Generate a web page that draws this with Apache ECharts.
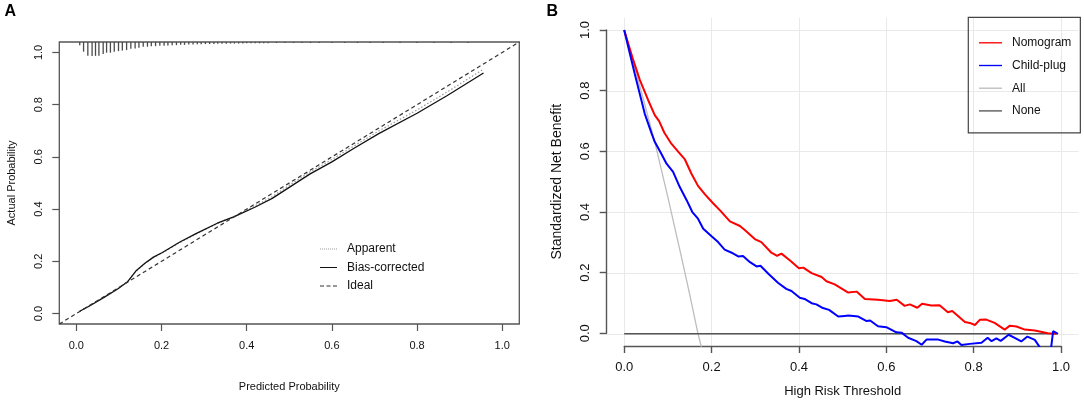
<!DOCTYPE html>
<html>
<head>
<meta charset="utf-8">
<title>Calibration curve and decision curve</title>
<script src="https://cdn.jsdelivr.net/npm/echarts@6.0.0/dist/echarts.min.js"></script>
<style>
html, body { margin: 0; padding: 0; background: #fff; }
#main { width: 1084px; height: 404px; }
</style>
</head>
<body>
<div id="main"></div>
<script>
// tick positions shared by both panels
var tickVals = [0, 0.2, 0.4, 0.6, 0.8, 1.0];
// R extends the plot region 4% on each side
var axisMin = -0.04, axisMax = 1.04;

// ---- A: calibration curve ----
var idealX = [-0.04, 1.04];
var idealY = [-0.04, 1.04];

var calX = [0.008, 0.032, 0.065, 0.097, 0.121, 0.141, 0.161, 0.181, 0.202, 0.242, 0.282, 0.331,
            0.371, 0.419, 0.460, 0.508, 0.548, 0.600, 0.653, 0.710, 0.800, 0.871, 0.956];
var apparentY = [0.010, 0.032, 0.063, 0.095, 0.124, 0.163, 0.192, 0.214, 0.232, 0.271, 0.305, 0.345,
                 0.372, 0.412, 0.448, 0.500, 0.542, 0.590, 0.643, 0.699, 0.780, 0.849, 0.936];
var biasY = [0.009, 0.030, 0.062, 0.094, 0.123, 0.165, 0.193, 0.216, 0.234, 0.273, 0.307, 0.346,
             0.371, 0.407, 0.441, 0.492, 0.534, 0.581, 0.634, 0.689, 0.767, 0.835, 0.921];

// spike histogram of predicted risks (x, lower end of the spike)
var spikeX = [0.008, 0.017, 0.027, 0.037, 0.045, 0.053, 0.063, 0.071, 0.080, 0.089, 0.099, 0.108,
              0.118, 0.128, 0.138, 0.147, 0.157, 0.167, 0.176, 0.186, 0.196, 0.206, 0.215, 0.225,
              0.235, 0.245, 0.254, 0.264, 0.274, 0.284, 0.293, 0.303, 0.313, 0.323, 0.332, 0.342,
              0.352, 0.362, 0.371, 0.381, 0.391, 0.400, 0.410, 0.420, 0.430, 0.440, 0.450,
              0.47, 0.49, 0.51, 0.53, 0.55, 0.57, 0.60, 0.63, 0.66, 0.69, 0.72, 0.76, 0.80, 0.84, 0.88, 0.92];
var spikeEnd = [1.028, 1.003, 0.987, 0.986, 0.987, 0.987, 0.994, 0.999, 0.999, 1.003, 1.005, 1.007,
                1.009, 1.014, 1.015, 1.018, 1.022, 1.022, 1.024, 1.024, 1.026, 1.026, 1.027, 1.028,
                1.028, 1.029, 1.029, 1.030, 1.030, 1.031, 1.031, 1.032, 1.032, 1.032, 1.033, 1.033,
                1.033, 1.034, 1.034, 1.034, 1.034, 1.035, 1.035, 1.035, 1.035, 1.035, 1.035,
                1.036, 1.036, 1.036, 1.036, 1.036, 1.036, 1.036, 1.036, 1.036, 1.036, 1.036, 1.036, 1.036, 1.036, 1.036, 1.036];

// ---- B: decision curves ----
var nomoX = [0, 0.021, 0.036, 0.055, 0.070, 0.080, 0.092, 0.108, 0.124, 0.139, 0.154, 0.169, 0.185,
             0.204, 0.221, 0.242, 0.265, 0.280, 0.299, 0.314, 0.337, 0.350, 0.360, 0.379, 0.400,
             0.410, 0.429, 0.452, 0.463, 0.482, 0.497, 0.513, 0.532, 0.551, 0.581, 0.608, 0.624,
             0.642, 0.654, 0.671, 0.682, 0.703, 0.722, 0.741, 0.751, 0.780, 0.791, 0.803, 0.814,
             0.829, 0.848, 0.871, 0.883, 0.898, 0.917, 0.940, 0.970, 0.990];
var nomoY = [1.0, 0.900, 0.835, 0.769, 0.720, 0.700, 0.662, 0.626, 0.599, 0.574, 0.527, 0.487, 0.459,
             0.429, 0.404, 0.370, 0.355, 0.337, 0.312, 0.302, 0.267, 0.257, 0.264, 0.242, 0.216,
             0.218, 0.200, 0.187, 0.173, 0.163, 0.150, 0.136, 0.139, 0.115, 0.112, 0.108, 0.112,
             0.092, 0.097, 0.086, 0.099, 0.093, 0.094, 0.071, 0.075, 0.039, 0.036, 0.029, 0.046,
             0.047, 0.036, 0.014, 0.027, 0.024, 0.014, 0.011, 0.002, 0.000];

var childX = [0, 0.024, 0.047, 0.063, 0.070, 0.085, 0.097, 0.112, 0.127, 0.143, 0.156, 0.169, 0.181,
              0.200, 0.215, 0.230, 0.246, 0.261, 0.272, 0.288, 0.303, 0.312, 0.330, 0.352, 0.371,
              0.383, 0.402, 0.413, 0.429, 0.440, 0.455, 0.469, 0.490, 0.505, 0.513, 0.536, 0.555,
              0.563, 0.581, 0.600, 0.623, 0.635, 0.650, 0.669, 0.681, 0.692, 0.719, 0.734, 0.753,
              0.763, 0.772, 0.791, 0.818, 0.832, 0.841, 0.852, 0.862, 0.880, 0.894, 0.909, 0.923,
              0.940, 0.959, 0.976, 0.982, 0.993];
var childY = [1.0, 0.857, 0.725, 0.659, 0.632, 0.593, 0.560, 0.533, 0.484, 0.440, 0.401, 0.379, 0.346,
              0.321, 0.302, 0.277, 0.267, 0.255, 0.256, 0.236, 0.222, 0.224, 0.198, 0.168, 0.148,
              0.141, 0.119, 0.115, 0.101, 0.097, 0.085, 0.079, 0.057, 0.059, 0.060, 0.057, 0.042,
              0.044, 0.025, 0.022, 0.005, 0.004, -0.013, -0.024, -0.036, -0.019, -0.019, -0.025, -0.031,
              -0.025, -0.037, -0.033, -0.029, -0.013, -0.024, -0.015, -0.023, -0.003, -0.013, -0.025, -0.009,
              -0.020, -0.060, -0.060, 0.009, 0.000];

var allX = [0, 0.035, 0.07, 0.10, 0.13, 0.15, 0.169, 0.178];
var allY = [1.0, 0.82, 0.632, 0.45, 0.26, 0.13, 0.0, -0.05];

var noneX = [0, 0.99];
var noneY = [0, 0];

var FONT = 'Liberation Sans, Arial, Helvetica, sans-serif';
var TXT = '#111';
var AXC = '#555';

// legend samples drawn as plain strokes (no symbol)
var ICON_SOLID = 'path://M0 0H17V1H0Z';
var ICON_DOT = 'path://M0 0h1v1H0zM2 0h1v1H2zM4 0h1v1H4zM6 0h1v1H6zM8 0h1v1H8zM10 0h1v1H10zM12 0h1v1H12zM14 0h1v1H14zM16 0h1v1H16z';
var ICON_DASH = 'path://M0 0h4v1H0zM6.5 0h4v1H6.5zM13 0h4v1H13z';

function zip(xs, ys) {
    var out = [];
    for (var i = 0; i < xs.length; i++) {
        out.push([xs[i], ys[i]]);
    }
    return out;
}
function fmt(v) {
    return Number(v).toFixed(1);
}

var chart = echarts.init(document.getElementById('main'), null, { renderer: 'canvas' });

var option = {
    animation: false,
    backgroundColor: '#fff',
    textStyle: { fontFamily: FONT },
    title: [
        { text: 'A', left: 4.5, top: 4, padding: 0, textStyle: { fontSize: 16, fontWeight: 'bold', color: '#000', fontFamily: FONT } },
        { text: 'B', left: 546.5, top: 3.5, padding: 0, textStyle: { fontSize: 16, fontWeight: 'bold', color: '#000', fontFamily: FONT } }
    ],
    grid: [
        // A: boxed plot
        { left: 59.3, top: 42, width: 460, height: 282, show: true, borderColor: AXC, borderWidth: 1.3,
          backgroundColor: 'transparent', outerBoundsMode: 'none' },
        // B: data region (full plot region incl. 4% padding)
        { left: 606.7, top: 17.9, width: 471.8, height: 328.1, outerBoundsMode: 'none' },
        // B: axis lines only span 0..1, like R's axis()
        { left: 624.3, top: 30, width: 436.7, height: 303.3, outerBoundsMode: 'none' }
    ],
    legend: [
        {
            data: [
                { name: 'Apparent', icon: ICON_DOT },
                { name: 'Bias-corrected', icon: ICON_SOLID },
                { name: 'Ideal', icon: ICON_DASH }
            ],
            orient: 'vertical', left: 320, top: 243, padding: 0,
            itemWidth: 17, itemHeight: 1.3, itemGap: 6.5,
            selectedMode: false,
            textStyle: { fontSize: 12, color: TXT, fontFamily: FONT, padding: [0, 0, 0, 5] }
        },
        {
            data: [
                { name: 'Nomogram', icon: ICON_SOLID },
                { name: 'Child-plug', icon: ICON_SOLID },
                { name: 'All', icon: ICON_SOLID },
                { name: 'None', icon: ICON_SOLID }
            ],
            orient: 'vertical', left: 968.3, top: 17.3,
            padding: [19.5, 9, 16, 10.7],
            borderColor: '#444', borderWidth: 1.2,
            itemWidth: 23, itemHeight: 2, itemGap: 10.7,
            selectedMode: false,
            textStyle: { fontSize: 12, color: TXT, fontFamily: FONT, padding: [0, 0, 0, 5] }
        }
    ],
    xAxis: [
        {
            gridIndex: 0, type: 'value', min: axisMin, max: axisMax,
            axisLine: { show: false, onZero: false },
            axisTick: { show: true, inside: false, length: 7, customValues: tickVals, lineStyle: { color: AXC, width: 1.2 } },
            axisLabel: { customValues: tickVals, formatter: fmt, margin: 16, fontSize: 11, color: TXT, fontFamily: FONT },
            splitLine: { show: false },
            name: 'Predicted Probability', nameLocation: 'middle', nameGap: 57,
            nameTextStyle: { fontSize: 11, color: TXT, fontFamily: FONT }
        },
        {
            gridIndex: 1, type: 'value', min: axisMin, max: axisMax,
            axisLine: { show: false, onZero: false },
            axisTick: { show: false, customValues: tickVals },
            axisLabel: { show: false, customValues: tickVals },
            splitLine: { show: true, lineStyle: { color: '#e9e9e9', width: 1 } }
        },
        {
            gridIndex: 2, type: 'value', min: 0, max: 1, interval: 0.2, offset: 12.7,
            axisLine: { show: true, onZero: false, lineStyle: { color: AXC, width: 1.4 } },
            axisTick: { show: true, inside: false, length: 7, lineStyle: { color: AXC, width: 1.4 } },
            axisLabel: { formatter: fmt, margin: 15, fontSize: 13, color: TXT, fontFamily: FONT },
            splitLine: { show: false },
            name: 'High Risk Threshold', nameLocation: 'middle', nameGap: 39,
            nameTextStyle: { fontSize: 13, color: TXT, fontFamily: FONT }
        }
    ],
    yAxis: [
        {
            gridIndex: 0, type: 'value', min: axisMin, max: axisMax,
            axisLine: { show: false, onZero: false },
            axisTick: { show: true, inside: false, length: 7, customValues: tickVals, lineStyle: { color: AXC, width: 1.2 } },
            axisLabel: { customValues: tickVals, formatter: fmt, rotate: 90, margin: 15, fontSize: 11, color: TXT, fontFamily: FONT },
            splitLine: { show: false },
            name: 'Actual Probability', nameLocation: 'middle', nameRotate: 90, nameGap: 42,
            nameTextStyle: { fontSize: 11, color: TXT, fontFamily: FONT }
        },
        {
            gridIndex: 1, type: 'value', min: axisMin, max: axisMax,
            axisLine: { show: false, onZero: false },
            axisTick: { show: false, customValues: tickVals },
            axisLabel: { show: false, customValues: tickVals },
            splitLine: { show: true, lineStyle: { color: '#e9e9e9', width: 1 } }
        },
        {
            gridIndex: 2, type: 'value', min: 0, max: 1, interval: 0.2, offset: 17.6,
            axisLine: { show: true, onZero: false, lineStyle: { color: AXC, width: 1.4 } },
            axisTick: { show: true, inside: false, length: 7, lineStyle: { color: AXC, width: 1.4 } },
            axisLabel: { formatter: fmt, rotate: 90, margin: 15, fontSize: 13, color: TXT, fontFamily: FONT },
            splitLine: { show: false },
            name: 'Standardized Net Benefit', nameLocation: 'middle', nameRotate: 90, nameGap: 43,
            nameTextStyle: { fontSize: 14, color: TXT, fontFamily: FONT }
        }
    ],
    series: [
        // A
        {
            name: 'spikes', type: 'custom', xAxisIndex: 0, yAxisIndex: 0,
            data: zip(spikeX, spikeEnd),
            renderItem: function (params, api) {
                var p1 = api.coord([api.value(0), axisMax]);
                var p2 = api.coord([api.value(0), api.value(1)]);
                return {
                    type: 'line',
                    shape: { x1: p1[0], y1: p1[1], x2: p2[0], y2: p2[1] },
                    style: { stroke: '#4a4a4a', lineWidth: 1.3 }
                };
            }
        },
        {
            name: 'Apparent', type: 'line', xAxisIndex: 0, yAxisIndex: 0,
            data: zip(calX, apparentY), symbol: 'none',
            lineStyle: { color: '#9a9a9a', width: 1.2, type: [1.5, 2] }, itemStyle: { color: '#9a9a9a' }
        },
        {
            name: 'Bias-corrected', type: 'line', xAxisIndex: 0, yAxisIndex: 0,
            data: zip(calX, biasY), symbol: 'none',
            lineStyle: { color: '#111', width: 1.3, type: 'solid' }, itemStyle: { color: '#111' }
        },
        {
            name: 'Ideal', type: 'line', xAxisIndex: 0, yAxisIndex: 0,
            data: zip(idealX, idealY), symbol: 'none',
            lineStyle: { color: '#333', width: 1.2, type: [4, 3] }, itemStyle: { color: '#333' }
        },
        // B
        {
            name: 'All', type: 'line', xAxisIndex: 1, yAxisIndex: 1,
            data: zip(allX, allY), symbol: 'none',
            lineStyle: { color: '#bdbdbd', width: 1.3 }, itemStyle: { color: '#bdbdbd' }
        },
        {
            name: 'None', type: 'line', xAxisIndex: 1, yAxisIndex: 1,
            data: zip(noneX, noneY), symbol: 'none',
            lineStyle: { color: '#555', width: 1.5 }, itemStyle: { color: '#555' }
        },
        {
            name: 'Nomogram', type: 'line', xAxisIndex: 1, yAxisIndex: 1,
            data: zip(nomoX, nomoY), symbol: 'none',
            lineStyle: { color: '#f00', width: 2 }, itemStyle: { color: '#f00' }
        },
        {
            name: 'Child-plug', type: 'line', xAxisIndex: 1, yAxisIndex: 1,
            data: zip(childX, childY), symbol: 'none',
            lineStyle: { color: '#00f', width: 2 }, itemStyle: { color: '#00f' }
        }
    ]
};

chart.setOption(option);
</script>
</body>
</html>
